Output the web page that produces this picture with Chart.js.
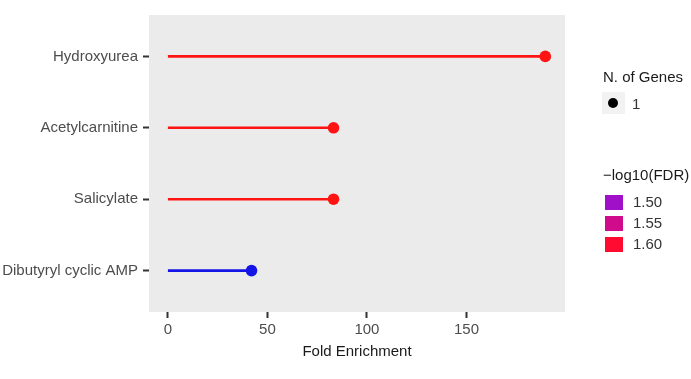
<!DOCTYPE html>
<html>
<head>
<meta charset="utf-8">
<script src="https://cdn.jsdelivr.net/npm/chart.js@4.4.0/dist/chart.umd.min.js"></script>
<style>
  body { margin: 0; background: #fff; font-family: "Liberation Sans", Arial, sans-serif; }
  #wrap { position: relative; width: 691px; height: 379px; }
  .lg { position: absolute; font-size: 15px; color: #1a1a1a; white-space: nowrap; line-height: 16px; }
  .lbl { color: #333; }
  .key { position: absolute; width: 23px; height: 22px; background: #f2f2f2; }
  .dot { position: absolute; left: 6px; top: 6px; width: 10px; height: 10px; border-radius: 50%; background: #000; }
  .sq { position: absolute; width: 18px; height: 15px; }
</style>
</head>
<body>
<div id="wrap">
  <canvas id="chart" width="691" height="379"></canvas>
  <div id="legend"></div>
</div>
<script>
const categories = ['Hydroxyurea', 'Acetylcarnitine', 'Salicylate', 'Dibutyryl cyclic AMP'];
const foldEnrichment = [189.6, 83.2, 83.2, 42.0];
const seriesColors = ['#ff1414', '#ff1414', '#ff1414', '#1414e6'];
const xTicks = [0, 50, 100, 150];
const geneLegend = ['1'];
const fdrLabels = ['1.50', '1.55', '1.60'];
const fdrColors = ['#a010c8', '#d00c8c', '#ff0a30'];

// categories listed top to bottom, ggplot puts the first level at the bottom
const yPos = categories.map((c, i) => categories.length - i);

const panelBg = {
  id: 'panelBg',
  beforeDraw(chart) {
    const { ctx, chartArea: a } = chart;
    ctx.save();
    ctx.fillStyle = '#ebebeb';
    ctx.fillRect(a.left, a.top, a.right - a.left, a.bottom - a.top);
    ctx.restore();
  }
};

const datasets = categories.map((c, i) => ({
  label: c,
  data: [{ x: 0, y: yPos[i] }, { x: foldEnrichment[i], y: yPos[i] }],
  showLine: true,
  borderColor: seriesColors[i],
  borderWidth: 2.6,
  pointRadius: [0, 5.8],
  pointBackgroundColor: seriesColors[i],
  pointBorderWidth: 0
}));

new Chart(document.getElementById('chart'), {
  type: 'scatter',
  data: { datasets },
  options: {
    responsive: false,
    animation: false,
    layout: { padding: { top: 15, right: 126, left: 0, bottom: 0 } },
    plugins: { legend: { display: false }, tooltip: { enabled: false } },
    scales: {
      x: {
        min: -9.5,
        max: 199.5,
        afterBuildTicks: s => { s.ticks = xTicks.map(v => ({ value: v })); },
        afterFit: s => { s.height = 67; },
        border: { display: false },
        grid: { drawOnChartArea: false, tickLength: 6, tickWidth: 2, tickColor: '#333' },
        ticks: { color: '#4d4d4d', font: { family: 'Liberation Sans', size: 15 }, padding: 3 },
        title: {
          display: true, text: 'Fold Enrichment', color: '#1a1a1a',
          font: { family: 'Liberation Sans', size: 15 }, padding: { top: 0, bottom: 18 }
        }
      },
      y: {
        min: 0.42,
        max: 4.58,
        afterBuildTicks: s => { s.ticks = yPos.map(v => ({ value: v })); },
        afterFit: s => { s.width = 149; },
        border: { display: false },
        grid: { drawOnChartArea: false, tickLength: 6, tickWidth: 2, tickColor: '#333' },
        ticks: {
          color: '#4d4d4d', font: { family: 'Liberation Sans', size: 15 }, padding: 5,
          callback: v => categories[yPos.indexOf(v)]
        }
      }
    }
  },
  plugins: [panelBg]
});

// legend on the right
const lg = document.getElementById('legend');
let html = '<div class="lg" style="left:603px;top:69px">N. of Genes</div>';
geneLegend.forEach((t, i) => {
  html += '<div class="key" style="left:602px;top:' + (92 + i * 22) + 'px"><div class="dot"></div></div>';
  html += '<div class="lg lbl" style="left:632px;top:' + (96 + i * 22) + 'px">' + t + '</div>';
});
html += '<div class="lg" style="left:603px;top:167px">\u2212log10(FDR)</div>';
fdrLabels.forEach((t, i) => {
  const top = 195 + i * 21;
  html += '<div class="sq" style="left:605px;top:' + top + 'px;background:' + fdrColors[i] + '"></div>';
  html += '<div class="lg lbl" style="left:633px;top:' + (top - 1) + 'px">' + t + '</div>';
});
lg.innerHTML = html;
</script>
</body>
</html>
